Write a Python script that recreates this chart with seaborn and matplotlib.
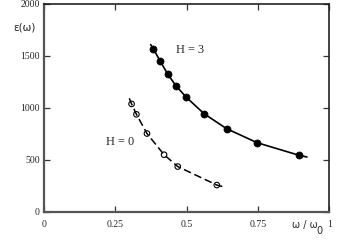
import pandas as pd
import matplotlib.pyplot as plt
import seaborn as sns

# values
h3_w = [0.383, 0.407, 0.434, 0.463, 0.499, 0.561, 0.640, 0.747, 0.895]
h3_eps = [1570, 1452, 1324, 1211, 1102, 944, 800, 665, 543]
h3_line_w = [0.374] + h3_w + [0.922]
h3_line_eps = [1609] + h3_eps + [527]

h0_w = [0.307, 0.324, 0.361, 0.421, 0.469, 0.606]
h0_eps = [1038, 938, 753, 549, 435, 257]
h0_line_w = [0.299] + h0_w + [0.628]
h0_line_eps = [1092] + h0_eps + [241]

x_ticks = [0, 0.25, 0.5, 0.75, 1]
x_labels = ['0', '0.25', '0.5', '0.75', '1']
y_ticks = [0, 500, 1000, 1500, 2000]
y_labels = ['0', '500', '1000', '1500', '2000']

h3_pts = pd.DataFrame({'w': h3_w, 'eps': h3_eps})
h0_pts = pd.DataFrame({'w': h0_w, 'eps': h0_eps})
h3_line = pd.DataFrame({'w': h3_line_w, 'eps': h3_line_eps})
h0_line = pd.DataFrame({'w': h0_line_w, 'eps': h0_line_eps})

sns.set_style('white')
plt.rcParams['font.family'] = ['Liberation Serif', 'DejaVu Serif']

fig = plt.figure(figsize=(3.59, 2.5), dpi=100)
ax = fig.add_axes([0.1226, 0.153, 0.7944, 0.831])

sns.lineplot(data=h3_line, x='w', y='eps', ax=ax, color='black', lw=1.2,
             sort=False, estimator=None)
sns.scatterplot(data=h3_pts, x='w', y='eps', ax=ax, color='black', s=26,
                edgecolor='black', linewidth=0.5, zorder=3)

sns.lineplot(data=h0_line, x='w', y='eps', ax=ax, color='black', lw=1.1,
             sort=False, estimator=None, dashes=False)
ax.lines[-1].set_dashes([5, 2.5])
sns.scatterplot(data=h0_pts, x='w', y='eps', ax=ax, s=16, facecolor='none',
                edgecolor='black', linewidth=0.8, zorder=3)

ax.set_xlim(0, 1)
ax.set_ylim(0, 2000)
ax.set_xticks(x_ticks)
ax.set_xticklabels(x_labels, fontsize=7)
ax.set_yticks(y_ticks)
ax.set_yticklabels(y_labels, fontsize=7)
ax.tick_params(direction='in', length=4, width=0.9, color='#333333',
               top=True, right=True, left=True, bottom=True, pad=3)
ax.tick_params(axis='x', pad=6)
ax.set_xlabel('')
ax.set_ylabel('')

for side in ['left', 'bottom']:
    ax.spines[side].set_color('#555555')
    ax.spines[side].set_linewidth(1.6)
for side in ['top', 'right']:
    ax.spines[side].set_color('#222222')
    ax.spines[side].set_linewidth(1.2)

ax.text(0.463, 1557, 'H = 3', fontsize=8.8, ha='left', va='center')
ax.text(0.217, 671, 'H = 0', fontsize=8.8, ha='left', va='center')
fig.text(0.036, 0.888, 'ε(ω)', fontsize=7.5, family='DejaVu Sans', ha='left', va='center')
fig.text(0.813, 0.1, 'ω / ω', fontsize=7, family='DejaVu Sans', ha='left', va='center')
fig.text(0.882, 0.076, '0', fontsize=7, family='DejaVu Sans', ha='left', va='center')

plt.savefig('out.png', dpi=100)
